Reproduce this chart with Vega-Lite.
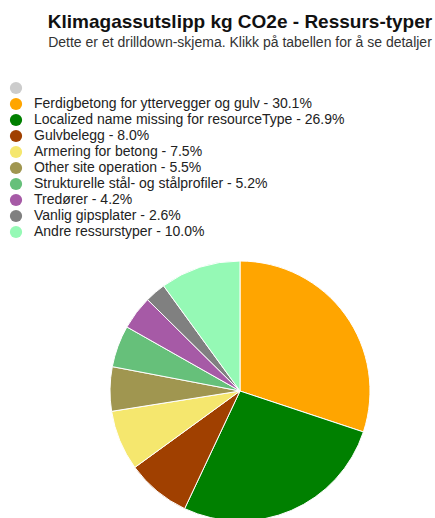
{
  "$schema": "https://vega.github.io/schema/vega-lite/v6.json",
  "autosize": "none",
  "width": 390,
  "height": 254,
  "padding": {"left": 45, "top": 264, "right": 0, "bottom": 0},
  "background": "white",
  "title": {
    "text": "Klimagassutslipp kg CO2e - Ressurs-typer",
    "subtitle": "Dette er et drilldown-skjema. Klikk på tabellen for å se detaljer",
    "anchor": "middle",
    "frame": "group",
    "font": "Liberation Sans",
    "fontSize": 19,
    "fontWeight": "bold",
    "color": "#111111",
    "subtitleFont": "Liberation Sans",
    "subtitleFontSize": 14,
    "subtitleColor": "#333333",
    "subtitlePadding": 4,
    "offset": 31
  },
  "data": {
    "values": [
      {"label": "", "value": 0, "order": 0},
      {"label": "Ferdigbetong for yttervegger og gulv - 30.1%", "value": 30.1, "order": 1},
      {"label": "Localized name missing for resourceType - 26.9%", "value": 26.9, "order": 2},
      {"label": "Gulvbelegg - 8.0%", "value": 8.0, "order": 3},
      {"label": "Armering for betong - 7.5%", "value": 7.5, "order": 4},
      {"label": "Other site operation - 5.5%", "value": 5.5, "order": 5},
      {"label": "Strukturelle stål- og stålprofiler - 5.2%", "value": 5.2, "order": 6},
      {"label": "Tredører - 4.2%", "value": 4.2, "order": 7},
      {"label": "Vanlig gipsplater - 2.6%", "value": 2.6, "order": 8},
      {"label": "Andre ressurstyper - 10.0%", "value": 10.0, "order": 9}
    ]
  },
  "mark": {"type": "arc", "radius": 130, "stroke": "#ffffff", "strokeWidth": 1},
  "encoding": {
    "theta": {"field": "value", "type": "quantitative", "stack": true},
    "order": {"field": "order", "type": "quantitative"},
    "color": {
      "field": "label",
      "type": "nominal",
      "sort": null,
      "scale": {
        "domain": [
          "",
          "Ferdigbetong for yttervegger og gulv - 30.1%",
          "Localized name missing for resourceType - 26.9%",
          "Gulvbelegg - 8.0%",
          "Armering for betong - 7.5%",
          "Other site operation - 5.5%",
          "Strukturelle stål- og stålprofiler - 5.2%",
          "Tredører - 4.2%",
          "Vanlig gipsplater - 2.6%",
          "Andre ressurstyper - 10.0%"
        ],
        "range": ["#cccccc", "#ffa500", "#008000", "#a04000", "#f5e76e", "#a09650", "#66c07a", "#a65aa6", "#808080", "#95f9b5"]
      },
      "legend": {
        "title": null,
        "orient": "none",
        "legendX": -36,
        "legendY": -183,
        "symbolType": "circle",
        "symbolSize": 150,
        "symbolStrokeWidth": 0,
        "labelFont": "Liberation Sans",
        "labelFontSize": 14,
        "labelColor": "#222222",
        "labelOffset": 11,
        "labelLimit": 400,
        "rowPadding": 2
      }
    }
  }
}
